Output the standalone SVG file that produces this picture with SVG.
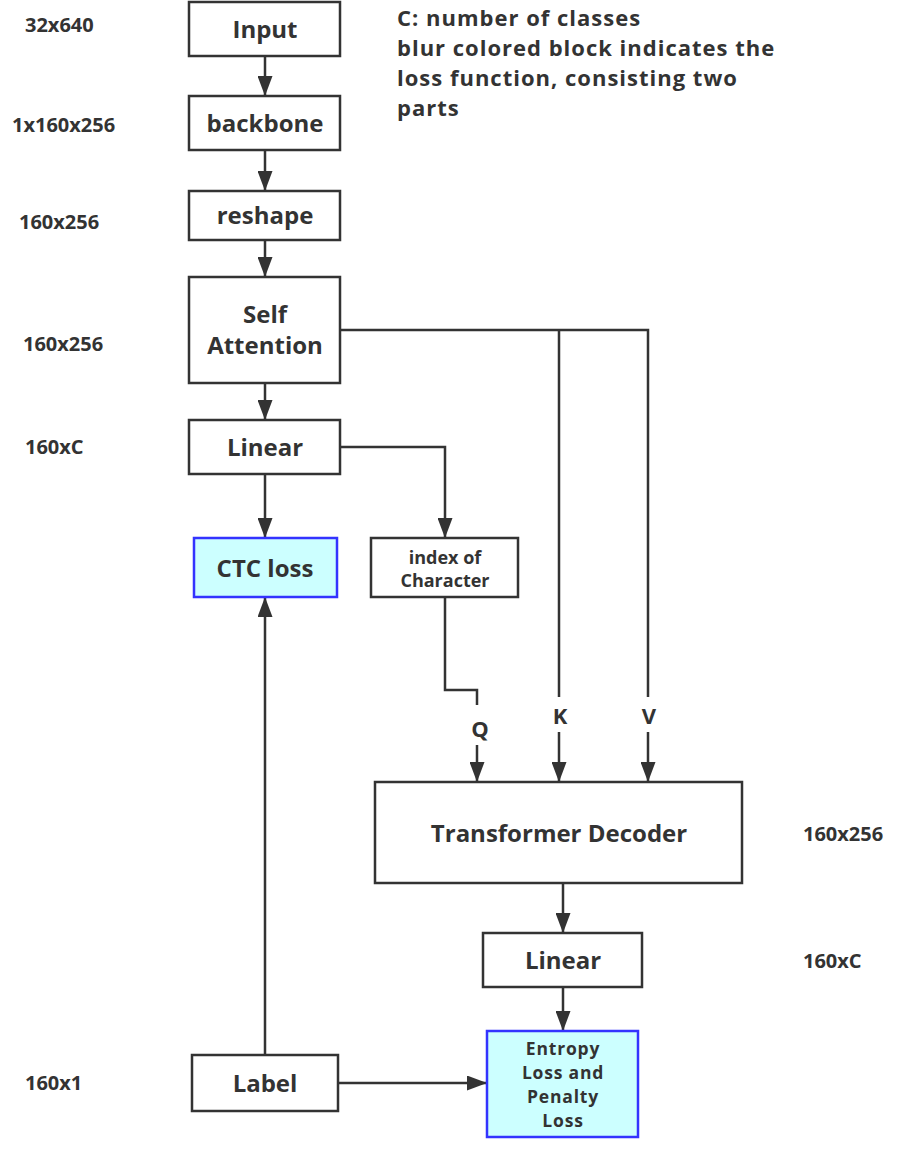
<svg xmlns="http://www.w3.org/2000/svg" width="898" height="1151" viewBox="0 0 898 1151">
<defs>
<style>
.box{fill:#fff;stroke:#333;stroke-width:2.5}
.loss{fill:#ccffff;stroke:#3333ff;stroke-width:2.5}
.t{font-family:"Open Sans","Noto Sans",sans-serif;font-weight:bold;fill:#333;text-anchor:middle}
.lb{font-family:"Open Sans","Noto Sans",sans-serif;font-weight:bold;fill:#333;font-size:20px}
.c{fill:none;stroke:#333;stroke-width:2.5}
</style>
<marker id="ah" viewBox="0 0 20 15" refX="20" refY="7.5" markerWidth="20" markerHeight="15" markerUnits="userSpaceOnUse" orient="auto">
<path d="M0,0 L20,7.5 L0,15 z" fill="#333"/>
</marker>
</defs>
<rect width="898" height="1151" fill="#fff"/>
<g id="connectors">
<path class="c" d="M265,56 V96" marker-end="url(#ah)"/>
<path class="c" d="M265,150 V191" marker-end="url(#ah)"/>
<path class="c" d="M265,240 V277" marker-end="url(#ah)"/>
<path class="c" d="M265,383 V420" marker-end="url(#ah)"/>
<path class="c" d="M265,474 V538" marker-end="url(#ah)"/>
<path class="c" d="M340,447 H445 V538" marker-end="url(#ah)"/>
<path class="c" d="M340,330 H648 V697"/>
<path class="c" d="M559,330 V697"/>
<path class="c" d="M445,597 V690 H477 V705"/>
<path class="c" d="M477,745 V782" marker-end="url(#ah)"/>
<path class="c" d="M559,732 V782" marker-end="url(#ah)"/>
<path class="c" d="M648,732 V782" marker-end="url(#ah)"/>
<path class="c" d="M563,883 V933" marker-end="url(#ah)"/>
<path class="c" d="M563,987 V1031" marker-end="url(#ah)"/>
<path class="c" d="M265,1055 V597" marker-end="url(#ah)"/>
<path class="c" d="M338,1083 H487" marker-end="url(#ah)"/>
<text class="t" x="480" y="737" font-size="22">Q</text>
<text class="t" x="560" y="724" font-size="22">K</text>
<text class="t" x="649" y="724" font-size="22">V</text>
</g>
<g id="input"><rect class="box" x="189" y="2" width="151" height="54"/><text class="t" x="265" y="38" font-size="24">Input</text></g>
<g id="backbone"><rect class="box" x="189" y="96" width="151" height="54"/><text class="t" x="265" y="132" font-size="24">backbone</text></g>
<g id="reshape"><rect class="box" x="189" y="191" width="151" height="49"/><text class="t" x="265" y="224" font-size="24">reshape</text></g>
<g id="self-attention"><rect class="box" x="189" y="277" width="151" height="106"/><text class="t" x="265" font-size="24"><tspan x="265" y="323">Self</tspan><tspan x="265" y="354">Attention</tspan></text></g>
<g id="linear1"><rect class="box" x="189" y="420" width="151" height="54"/><text class="t" x="265" y="456" font-size="24">Linear</text></g>
<g id="ctc-loss"><rect class="loss" x="194" y="538" width="143" height="59"/><text class="t" x="265" y="577" font-size="24">CTC loss</text></g>
<g id="index-of-character"><rect class="box" x="371" y="538" width="147" height="59"/><text class="t" font-size="18"><tspan x="445" y="564">index of</tspan><tspan x="445" y="587">Character</tspan></text></g>
<g id="transformer-decoder"><rect class="box" x="375" y="782" width="367" height="101"/><text class="t" x="559" y="842" font-size="24">Transformer Decoder</text></g>
<g id="linear2"><rect class="box" x="483" y="933" width="159" height="54"/><text class="t" x="563" y="969" font-size="24">Linear</text></g>
<g id="entropy-loss"><rect class="loss" x="487" y="1031" width="151" height="106"/><text class="t" font-size="17.5" letter-spacing="0.8"><tspan x="563" y="1055">Entropy</tspan><tspan x="563" y="1079">Loss and</tspan><tspan x="563" y="1103">Penalty</tspan><tspan x="563" y="1127">Loss</tspan></text></g>
<g id="label"><rect class="box" x="192" y="1055" width="146" height="56"/><text class="t" x="265" y="1092" font-size="24">Label</text></g>
<g id="dims">
<text class="lb" x="25" y="32">32x640</text>
<text class="lb" x="12" y="132">1x160x256</text>
<text class="lb" x="19" y="229">160x256</text>
<text class="lb" x="23" y="351">160x256</text>
<text class="lb" x="25" y="454">160xC</text>
<text class="lb" x="25" y="1090">160x1</text>
<text class="lb" x="803" y="841">160x256</text>
<text class="lb" x="803" y="968">160xC</text>
</g>
<g id="note">
<text font-family="Open Sans, Noto Sans, sans-serif" font-weight="bold" font-size="22" letter-spacing="1" fill="#333"><tspan x="397" y="26">C: number of classes</tspan><tspan x="397" y="56">blur colored block indicates the</tspan><tspan x="397" y="86">loss function, consisting two</tspan><tspan x="397" y="116">parts</tspan></text>
</g>
</svg>
